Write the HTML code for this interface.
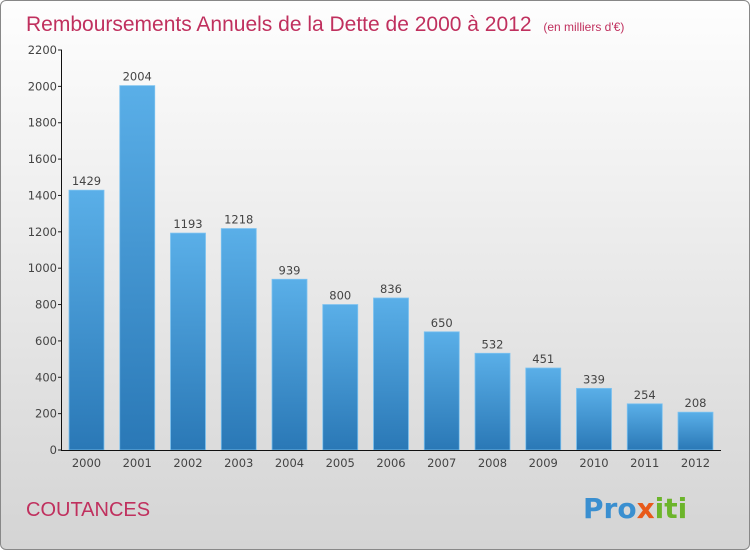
<!DOCTYPE html>
<html><head><meta charset="utf-8"><style>
body{margin:0}
#c{width:748px;height:548px;border:1px solid #888;border-radius:6px;overflow:hidden;background:linear-gradient(#fefefe,#d4d4d4);position:relative;font-family:"DejaVu Sans","Liberation Sans",sans-serif}
</style></head><body>
<div id="c">
<svg width="748" height="548" id="s">
<defs><linearGradient id="g" x1="0" y1="0" x2="0" y2="1"><stop offset="0" stop-color="#5aafe8"/><stop offset="1" stop-color="#2a78b6"/></linearGradient></defs>
<text x="25" y="30" font-size="21" fill="#c0305e" font-family="Liberation Sans, sans-serif">Remboursements Annuels de la Dette de 2000 à 2012 <tspan font-size="12" dx="6">(en milliers d'€)</tspan></text>
<text x="25" y="515" font-size="20" fill="#c0305e" font-family="Liberation Sans, sans-serif">COUTANCES</text>
<text x="582" y="517" font-size="28" font-weight="bold"><tspan fill="#3a8fd0">Pro</tspan><tspan fill="#e85a1a">x</tspan><tspan fill="#6cb52b">iti</tspan></text>
<g id="ax"></g>
</svg></div>
<script>
const years=["2000","2001","2002","2003","2004","2005","2006","2007","2008","2009","2010","2011","2012"];
const values=[1429,2004,1193,1218,939,800,836,650,532,451,339,254,208];
const yTicks=[0,200,400,600,800,1000,1200,1400,1600,1800,2000,2200];
const ns="http://www.w3.org/2000/svg",g=document.getElementById('ax');
const y=v=>449-v*400/2200, x=i=>85.5+i*50.75;
function el(t,a,txt){const e=document.createElementNS(ns,t);for(const k in a)e.setAttribute(k,a[k]);if(txt!=null)e.textContent=txt;g.appendChild(e);return e;}
values.forEach((v,i)=>{
 const r=el('rect',{x:x(i)-17.5,y:y(v),width:35,height:449-y(v),fill:'url(#g)',stroke:'#7cc2f0','stroke-width':0.8});
 
 
 const t=el('text',{x:x(i),y:y(v)-5,'font-size':11.5,'text-anchor':'middle',fill:'#444'},v);
 
 
 const xl=el('text',{x:x(i),y:466,'font-size':11.5,'text-anchor':'middle',fill:'#444'},years[i]);
 
 
});
yTicks.forEach(v=>{
 el('line',{x1:57,x2:61,y1:y(v),y2:y(v),stroke:'#222'});
 const t=el('text',{x:56,y:y(v)+4,'font-size':11.5,'text-anchor':'end',fill:'#444'},v);
 
 
});
const ya=el('line',{x1:60.5,x2:60.5,y1:49,y2:450,stroke:'#111'});


const xa=el('line',{x1:60,x2:720,y1:449.5,y2:449.5,stroke:'#111'});


</script>
</body></html>
